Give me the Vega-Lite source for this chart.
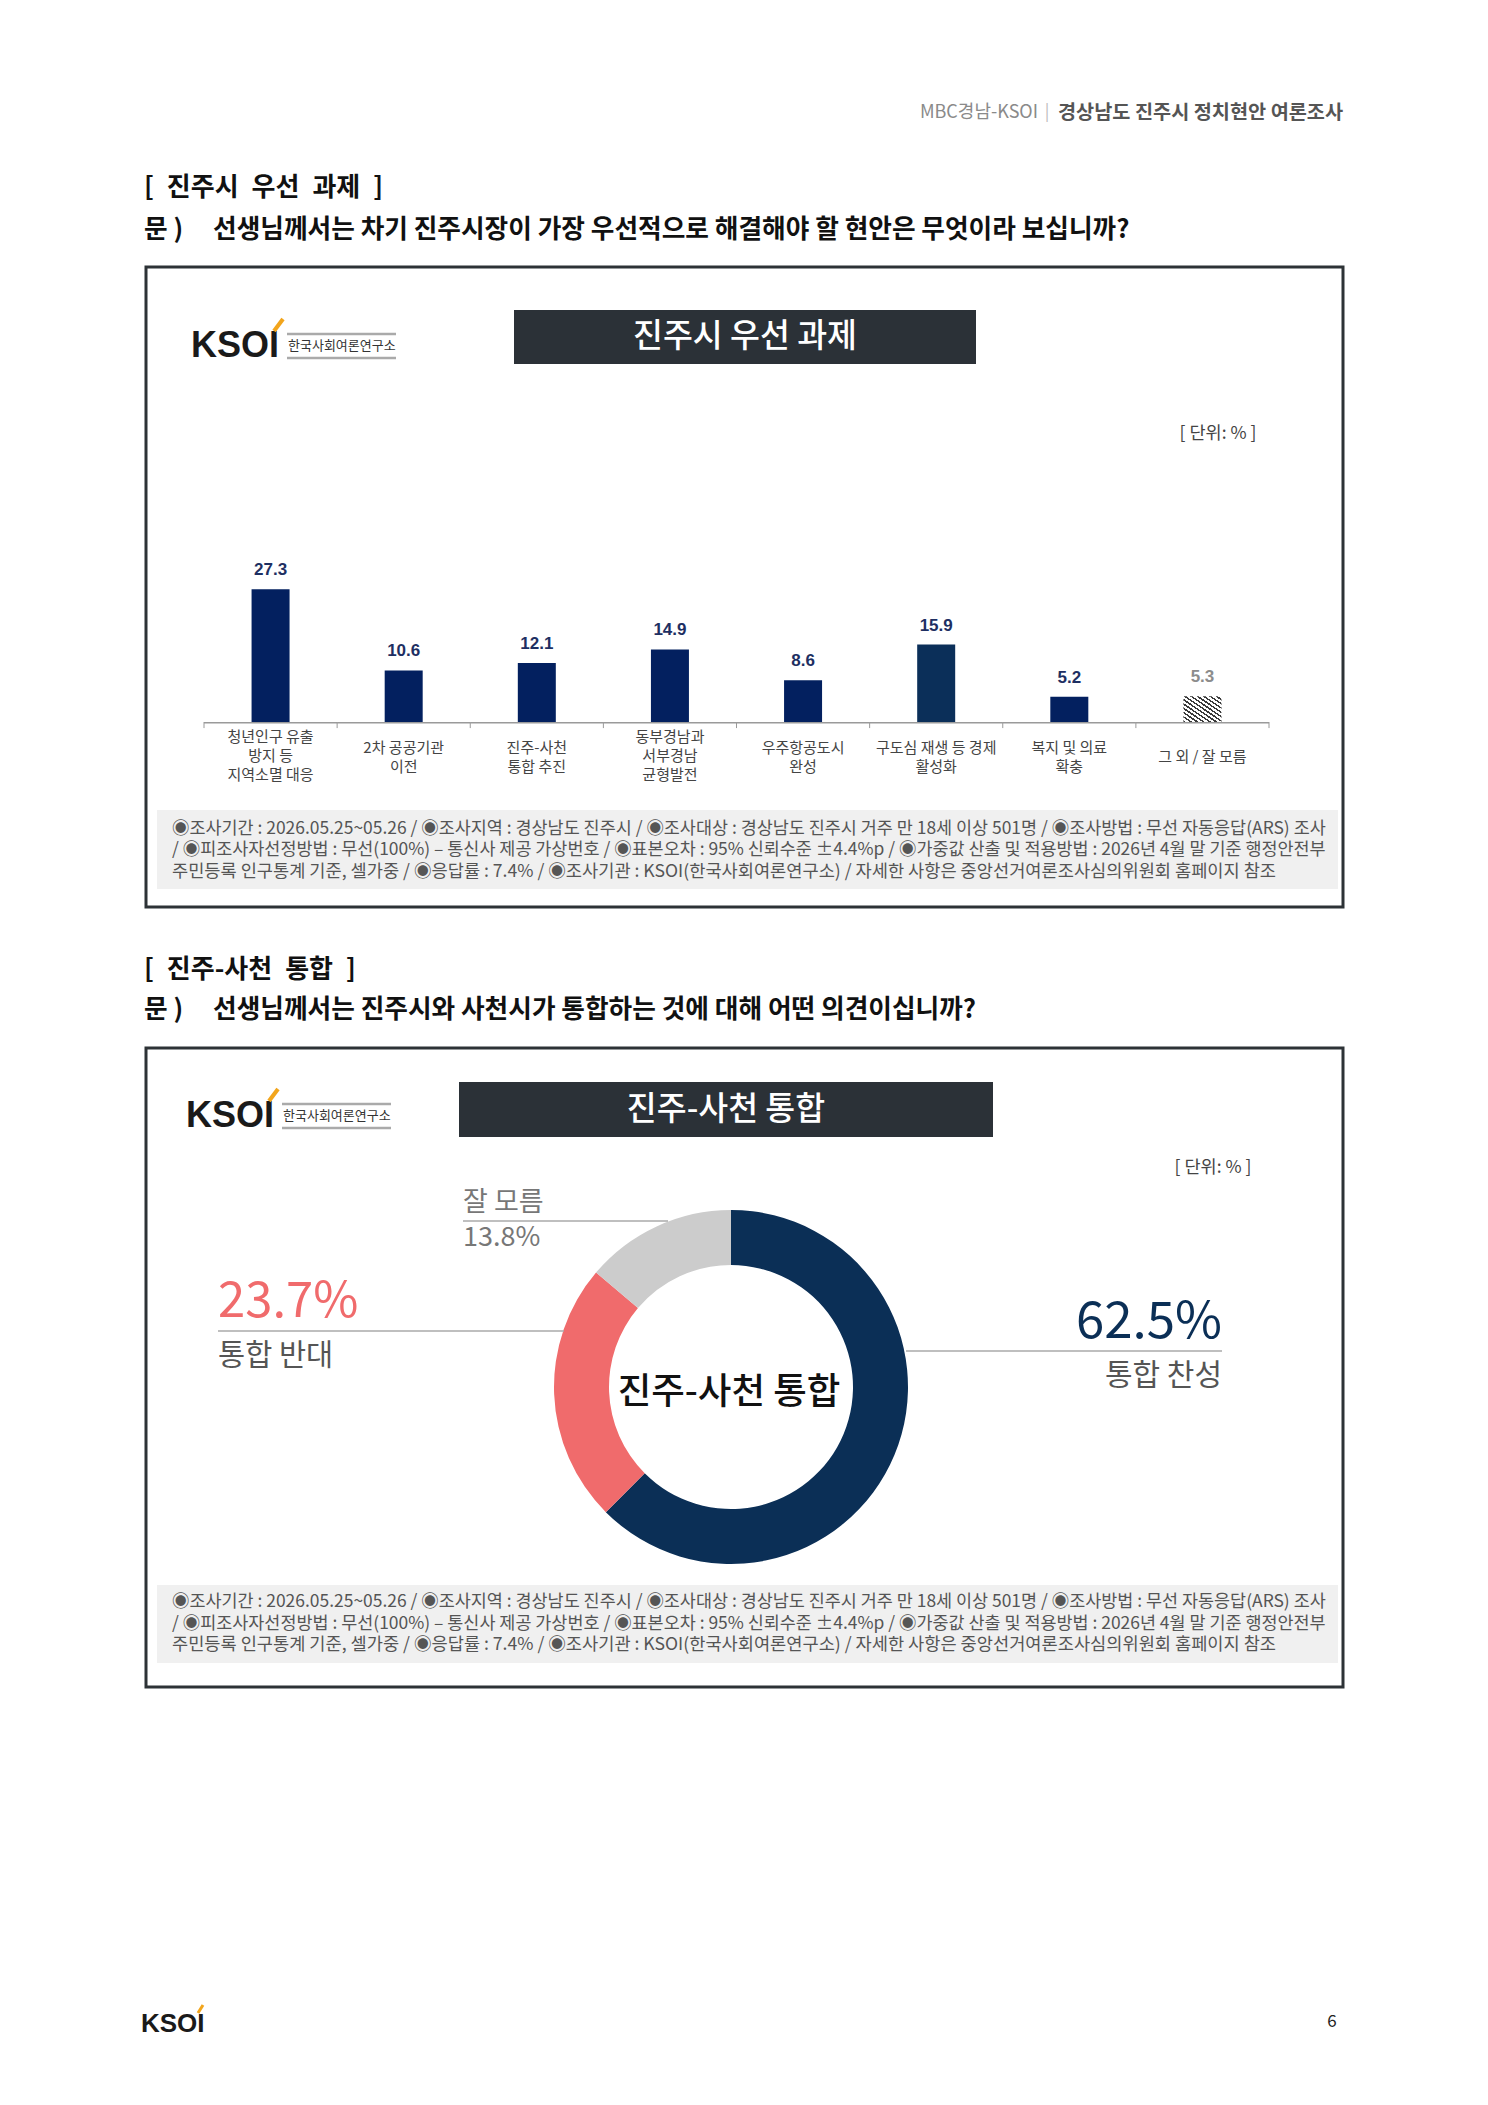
{
  "$schema": "https://vega.github.io/schema/vega-lite/v6.json",
  "width": 1488,
  "height": 2105,
  "autosize": {"type": "none"},
  "padding": 0,
  "background": "#ffffff",
  "config": {"view": {"stroke": null}, "font": "Noto Sans CJK KR"},
  "datasets": {
    "bars": [
      {"category": "청년인구 유출\n방지 등\n지역소멸 대응", "value": 27.3},
      {"category": "2차 공공기관\n이전", "value": 10.6},
      {"category": "진주-사천\n통합 추진", "value": 12.1},
      {"category": "동부경남과\n서부경남\n균형발전", "value": 14.9},
      {"category": "우주항공도시\n완성", "value": 8.6},
      {"category": "구도심 재생 등 경제\n활성화", "value": 15.9},
      {"category": "복지 및 의료\n확충", "value": 5.2},
      {"category": "그 외 / 잘 모름", "value": 5.3}
    ],
    "donut": [
      {"opinion": "통합 찬성", "share": 0.625},
      {"opinion": "통합 반대", "share": 0.237},
      {"opinion": "잘 모름", "share": 0.138}
    ]
  },
  "data": {"values": [{}]},
  "layer": [
    {"mark": {"type": "text", "text": "MBC경남-KSOI", "align": "right", "baseline": "middle", "fontSize": 18, "color": "#8a8a8a"}, "encoding": {"x": {"value": 1038}, "y": {"value": 113}}},
    {"mark": {"type": "text", "text": "|", "align": "center", "baseline": "middle", "fontSize": 17, "color": "#bbbbbb"}, "encoding": {"x": {"value": 1047}, "y": {"value": 112}}},
    {"mark": {"type": "text", "text": "경상남도 진주시 정치현안 여론조사", "align": "left", "baseline": "middle", "fontSize": 19.7, "fontWeight": "bold", "color": "#555555"}, "encoding": {"x": {"value": 1058}, "y": {"value": 113}}},

    {"mark": {"type": "text", "text": "[\u2002진주시\u2002우선\u2002과제\u2002]", "align": "left", "baseline": "middle", "fontSize": 26, "fontWeight": "bold", "color": "#111111"}, "encoding": {"x": {"value": 144}, "y": {"value": 188}}},
    {"mark": {"type": "text", "text": "문 )", "align": "left", "baseline": "middle", "fontSize": 25.7, "fontWeight": "bold", "color": "#111111"}, "encoding": {"x": {"value": 144}, "y": {"value": 230}}},
    {"mark": {"type": "text", "text": "선생님께서는 차기 진주시장이 가장 우선적으로 해결해야 할 현안은 무엇이라 보십니까?", "align": "left", "baseline": "middle", "fontSize": 25.7, "fontWeight": "bold", "color": "#111111"}, "encoding": {"x": {"value": 213}, "y": {"value": 230}}},

    {"mark": {"type": "rect", "filled": false, "color": "#2d3236", "strokeWidth": 3}, "encoding": {"x": {"value": 146}, "x2": {"value": 1343}, "y": {"value": 267}, "y2": {"value": 907}}},

    {"mark": {"type": "text", "text": "KSOI", "align": "left", "baseline": "alphabetic", "fontSize": 36, "fontWeight": "bold", "font": "Liberation Sans", "color": "#1a1a1a"}, "encoding": {"x": {"value": 191}, "y": {"value": 357}}},
    {"mark": {"type": "rule", "color": "#f2a51c", "strokeWidth": 4}, "encoding": {"x": {"value": 274}, "y": {"value": 331}, "x2": {"value": 283}, "y2": {"value": 319}}},
    {"mark": {"type": "rule", "color": "#aaaaaa", "strokeWidth": 2.5}, "encoding": {"x": {"value": 287}, "x2": {"value": 396}, "y": {"value": 334}}},
    {"mark": {"type": "rule", "color": "#aaaaaa", "strokeWidth": 2.5}, "encoding": {"x": {"value": 287}, "x2": {"value": 396}, "y": {"value": 358}}},
    {"mark": {"type": "text", "text": "한국사회여론연구소", "align": "left", "baseline": "middle", "fontSize": 13, "color": "#333333"}, "encoding": {"x": {"value": 288}, "y": {"value": 346}}},

    {"mark": {"type": "rect", "color": "#2b3137"}, "encoding": {"x": {"value": 514}, "x2": {"value": 976}, "y": {"value": 310}, "y2": {"value": 364}}},
    {"mark": {"type": "text", "text": "진주시 우선 과제", "align": "center", "baseline": "middle", "fontSize": 32.5, "fontWeight": 500, "color": "#ffffff"}, "encoding": {"x": {"value": 745}, "y": {"value": 337}}},
    {"mark": {"type": "text", "text": "[ 단위: % ]", "align": "center", "baseline": "middle", "fontSize": 17.5, "color": "#444444"}, "encoding": {"x": {"value": 1218}, "y": {"value": 434}}},

    {
      "data": {"name": "bars"},
      "mark": {"type": "rect", "color": "#9a9a9a"},
      "encoding": {
        "x": {
          "field": "category", "type": "nominal", "sort": null,
          "scale": {"type": "band", "domain": ["청년인구 유출\n방지 등\n지역소멸 대응", "2차 공공기관\n이전", "진주-사천\n통합 추진", "동부경남과\n서부경남\n균형발전", "우주항공도시\n완성", "구도심 재생 등 경제\n활성화", "복지 및 의료\n확충", "그 외 / 잘 모름"], "range": [204, 1269], "paddingInner": 0, "paddingOuter": 0},
          "axis": null
        },
        "y": {"datum": 0, "type": "quantitative", "scale": {"domain": [0, 30], "range": [722, 576], "nice": false}, "axis": null},
        "y2": {"datum": -0.32}
      }
    },
    {
      "data": {"name": "bars"},
      "mark": {"type": "rule", "color": "#9a9a9a", "strokeWidth": 1},
      "encoding": {
        "x": {"field": "category", "type": "nominal", "bandPosition": 0, "axis": null},
        "y": {"datum": 0, "type": "quantitative", "axis": null},
        "y2": {"datum": -1.25}
      }
    },
    {
      "data": {"name": "bars"},
      "transform": [{"filter": "datum.category == '그 외 / 잘 모름'"}],
      "mark": {"type": "rule", "color": "#9a9a9a", "strokeWidth": 1},
      "encoding": {
        "x": {"field": "category", "type": "nominal", "bandPosition": 1, "axis": null},
        "y": {"datum": 0, "type": "quantitative", "axis": null},
        "y2": {"datum": -1.25}
      }
    },
    {
      "data": {"name": "bars"},
      "transform": [{"filter": "datum.category != '그 외 / 잘 모름'"}],
      "mark": {"type": "bar", "width": 38},
      "encoding": {
        "x": {"field": "category", "type": "nominal", "axis": null},
        "y": {"field": "value", "type": "quantitative", "axis": null},
        "color": {"condition": {"test": "indexof(datum.category, '구도심') >= 0", "value": "#0b2f59"}, "value": "#03205f"}
      }
    },
    {
      "data": {"name": "bars"},
      "transform": [{"filter": "datum.category == '그 외 / 잘 모름'"}],
      "mark": {"type": "bar", "width": 38, "color": {"gradient": "linear", "x1": 0, "y1": 1, "x2": 1, "y2": 0, "stops": [
        {"offset": 0, "color": "#3a3a3a"}, {"offset": 0.035, "color": "#3a3a3a"}, {"offset": 0.035, "color": "#ffffff"}, {"offset": 0.0833, "color": "#ffffff"},
        {"offset": 0.0833, "color": "#3a3a3a"}, {"offset": 0.1183, "color": "#3a3a3a"}, {"offset": 0.1183, "color": "#ffffff"}, {"offset": 0.1667, "color": "#ffffff"},
        {"offset": 0.1667, "color": "#3a3a3a"}, {"offset": 0.2017, "color": "#3a3a3a"}, {"offset": 0.2017, "color": "#ffffff"}, {"offset": 0.25, "color": "#ffffff"},
        {"offset": 0.25, "color": "#3a3a3a"}, {"offset": 0.285, "color": "#3a3a3a"}, {"offset": 0.285, "color": "#ffffff"}, {"offset": 0.3333, "color": "#ffffff"},
        {"offset": 0.3333, "color": "#3a3a3a"}, {"offset": 0.3683, "color": "#3a3a3a"}, {"offset": 0.3683, "color": "#ffffff"}, {"offset": 0.4167, "color": "#ffffff"},
        {"offset": 0.4167, "color": "#3a3a3a"}, {"offset": 0.4517, "color": "#3a3a3a"}, {"offset": 0.4517, "color": "#ffffff"}, {"offset": 0.5, "color": "#ffffff"},
        {"offset": 0.5, "color": "#3a3a3a"}, {"offset": 0.535, "color": "#3a3a3a"}, {"offset": 0.535, "color": "#ffffff"}, {"offset": 0.5833, "color": "#ffffff"},
        {"offset": 0.5833, "color": "#3a3a3a"}, {"offset": 0.6183, "color": "#3a3a3a"}, {"offset": 0.6183, "color": "#ffffff"}, {"offset": 0.6667, "color": "#ffffff"},
        {"offset": 0.6667, "color": "#3a3a3a"}, {"offset": 0.7017, "color": "#3a3a3a"}, {"offset": 0.7017, "color": "#ffffff"}, {"offset": 0.75, "color": "#ffffff"},
        {"offset": 0.75, "color": "#3a3a3a"}, {"offset": 0.785, "color": "#3a3a3a"}, {"offset": 0.785, "color": "#ffffff"}, {"offset": 0.8333, "color": "#ffffff"},
        {"offset": 0.8333, "color": "#3a3a3a"}, {"offset": 0.8683, "color": "#3a3a3a"}, {"offset": 0.8683, "color": "#ffffff"}, {"offset": 0.9167, "color": "#ffffff"},
        {"offset": 0.9167, "color": "#3a3a3a"}, {"offset": 0.9517, "color": "#3a3a3a"}, {"offset": 0.9517, "color": "#ffffff"}, {"offset": 1, "color": "#ffffff"}
      ]}},
      "encoding": {
        "x": {"field": "category", "type": "nominal", "axis": null},
        "y": {"field": "value", "type": "quantitative", "axis": null}
      }
    },
    {
      "data": {"name": "bars"},
      "mark": {"type": "text", "baseline": "bottom", "dy": -10, "fontSize": 17, "fontWeight": "bold", "font": "Liberation Sans"},
      "encoding": {
        "x": {"field": "category", "type": "nominal", "axis": null},
        "y": {"field": "value", "type": "quantitative", "axis": null},
        "text": {"field": "value", "type": "quantitative", "format": ".1f"},
        "color": {"condition": {"test": "datum.category == '그 외 / 잘 모름'", "value": "#8c8c8c"}, "value": "#1e2f62"}
      }
    },
    {
      "data": {"name": "bars"},
      "transform": [{"filter": "length(split(datum.category, '\\n')) == 3"}],
      "mark": {"type": "text", "align": "center", "baseline": "middle", "lineBreak": "\n", "lineHeight": 19, "fontSize": 15, "color": "#444444"},
      "encoding": {
        "x": {"field": "category", "type": "nominal", "axis": null},
        "y": {"datum": -3.1, "type": "quantitative", "axis": null},
        "text": {"field": "category", "type": "nominal"}
      }
    },
    {
      "data": {"name": "bars"},
      "transform": [{"filter": "length(split(datum.category, '\\n')) == 2"}],
      "mark": {"type": "text", "align": "center", "baseline": "middle", "lineBreak": "\n", "lineHeight": 19, "fontSize": 15, "color": "#444444"},
      "encoding": {
        "x": {"field": "category", "type": "nominal", "axis": null},
        "y": {"datum": -5.25, "type": "quantitative", "axis": null},
        "text": {"field": "category", "type": "nominal"}
      }
    },
    {
      "data": {"name": "bars"},
      "transform": [{"filter": "length(split(datum.category, '\\n')) == 1"}],
      "mark": {"type": "text", "align": "center", "baseline": "middle", "lineBreak": "\n", "lineHeight": 19, "fontSize": 15, "color": "#444444"},
      "encoding": {
        "x": {"field": "category", "type": "nominal", "axis": null},
        "y": {"datum": -7.2, "type": "quantitative", "axis": null},
        "text": {"field": "category", "type": "nominal"}
      }
    },

    {"mark": {"type": "rect", "color": "#f0f0f0"}, "encoding": {"x": {"value": 157}, "x2": {"value": 1338}, "y": {"value": 810}, "y2": {"value": 889}}},
    {"mark": {"type": "text", "text": "◉조사기간 : 2026.05.25~05.26 / ◉조사지역 : 경상남도 진주시 / ◉조사대상 : 경상남도 진주시 거주 만 18세 이상 501명 / ◉조사방법 : 무선 자동응답(ARS) 조사", "align": "left", "baseline": "middle", "fontSize": 17.45, "color": "#555555"}, "encoding": {"x": {"value": 172}, "y": {"value": 829}}},
    {"mark": {"type": "text", "text": "/ ◉피조사자선정방법 : 무선(100%) – 통신사 제공 가상번호 / ◉표본오차 : 95% 신뢰수준 ±4.4%p / ◉가중값 산출 및 적용방법 : 2026년 4월 말 기준 행정안전부", "align": "left", "baseline": "middle", "fontSize": 17.45, "color": "#555555"}, "encoding": {"x": {"value": 172}, "y": {"value": 850}}},
    {"mark": {"type": "text", "text": "주민등록 인구통계 기준, 셀가중 / ◉응답률 : 7.4% / ◉조사기관 : KSOI(한국사회여론연구소) / 자세한 사항은 중앙선거여론조사심의위원회 홈페이지 참조", "align": "left", "baseline": "middle", "fontSize": 17.6, "color": "#555555"}, "encoding": {"x": {"value": 172}, "y": {"value": 872}}},

    {"mark": {"type": "text", "text": "[\u2002진주-사천\u2002통합\u2002]", "align": "left", "baseline": "middle", "fontSize": 26, "fontWeight": "bold", "color": "#111111"}, "encoding": {"x": {"value": 144}, "y": {"value": 970}}},
    {"mark": {"type": "text", "text": "문 )", "align": "left", "baseline": "middle", "fontSize": 25.7, "fontWeight": "bold", "color": "#111111"}, "encoding": {"x": {"value": 144}, "y": {"value": 1010}}},
    {"mark": {"type": "text", "text": "선생님께서는 진주시와 사천시가 통합하는 것에 대해 어떤 의견이십니까?", "align": "left", "baseline": "middle", "fontSize": 25.7, "fontWeight": "bold", "color": "#111111"}, "encoding": {"x": {"value": 213}, "y": {"value": 1010}}},

    {"mark": {"type": "rect", "filled": false, "color": "#2d3236", "strokeWidth": 3}, "encoding": {"x": {"value": 146}, "x2": {"value": 1343}, "y": {"value": 1048}, "y2": {"value": 1687}}},

    {"mark": {"type": "text", "text": "KSOI", "align": "left", "baseline": "alphabetic", "fontSize": 36, "fontWeight": "bold", "font": "Liberation Sans", "color": "#1a1a1a"}, "encoding": {"x": {"value": 186}, "y": {"value": 1127}}},
    {"mark": {"type": "rule", "color": "#f2a51c", "strokeWidth": 4}, "encoding": {"x": {"value": 269}, "y": {"value": 1101}, "x2": {"value": 278}, "y2": {"value": 1089}}},
    {"mark": {"type": "rule", "color": "#aaaaaa", "strokeWidth": 2.5}, "encoding": {"x": {"value": 282}, "x2": {"value": 391}, "y": {"value": 1104}}},
    {"mark": {"type": "rule", "color": "#aaaaaa", "strokeWidth": 2.5}, "encoding": {"x": {"value": 282}, "x2": {"value": 391}, "y": {"value": 1128}}},
    {"mark": {"type": "text", "text": "한국사회여론연구소", "align": "left", "baseline": "middle", "fontSize": 13, "color": "#333333"}, "encoding": {"x": {"value": 283}, "y": {"value": 1116}}},

    {"mark": {"type": "rect", "color": "#2b3137"}, "encoding": {"x": {"value": 459}, "x2": {"value": 993}, "y": {"value": 1082}, "y2": {"value": 1137}}},
    {"mark": {"type": "text", "text": "진주-사천 통합", "align": "center", "baseline": "middle", "fontSize": 32.5, "fontWeight": 500, "color": "#ffffff"}, "encoding": {"x": {"value": 726}, "y": {"value": 1110}}},
    {"mark": {"type": "text", "text": "[ 단위: % ]", "align": "center", "baseline": "middle", "fontSize": 17.5, "color": "#444444"}, "encoding": {"x": {"value": 1213}, "y": {"value": 1168}}},

    {
      "data": {"name": "donut"},
      "mark": {"type": "arc", "outerRadius": 177, "innerRadius": 122},
      "encoding": {
        "theta": {"field": "share", "type": "quantitative", "stack": true},
        "order": {"field": "share", "type": "quantitative", "sort": "descending"},
        "color": {"field": "opinion", "type": "nominal", "scale": {"domain": ["통합 찬성", "통합 반대", "잘 모름"], "range": ["#0b2f56", "#f06b6c", "#cccccc"]}, "legend": null},
        "x": {"value": 731},
        "y": {"value": 1387}
      }
    },
    {"mark": {"type": "text", "text": "진주-사천 통합", "align": "center", "baseline": "middle", "fontSize": 36.5, "fontWeight": 500, "color": "#111111"}, "encoding": {"x": {"value": 729}, "y": {"value": 1393}}},

    {"mark": {"type": "rule", "color": "#aaaaaa", "strokeWidth": 1.5}, "encoding": {"x": {"value": 906}, "x2": {"value": 1222}, "y": {"value": 1351}}},
    {"mark": {"type": "rule", "color": "#aaaaaa", "strokeWidth": 1.5}, "encoding": {"x": {"value": 218}, "x2": {"value": 564}, "y": {"value": 1331}}},
    {"mark": {"type": "rule", "color": "#aaaaaa", "strokeWidth": 1.5}, "encoding": {"x": {"value": 463}, "x2": {"value": 668}, "y": {"value": 1221}}},

    {"data": {"name": "donut"}, "transform": [{"filter": "datum.opinion == '통합 찬성'"}], "mark": {"type": "text", "align": "right", "baseline": "middle", "fontSize": 51, "color": "#0b2f56"}, "encoding": {"text": {"field": "share", "type": "quantitative", "format": ".1%"}, "x": {"value": 1222}, "y": {"value": 1323}}},
    {"data": {"name": "donut"}, "transform": [{"filter": "datum.opinion == '통합 찬성'"}], "mark": {"type": "text", "align": "right", "baseline": "middle", "fontSize": 30, "color": "#555555"}, "encoding": {"text": {"field": "opinion", "type": "nominal"}, "x": {"value": 1222}, "y": {"value": 1376}}},
    {"data": {"name": "donut"}, "transform": [{"filter": "datum.opinion == '통합 반대'"}], "mark": {"type": "text", "align": "left", "baseline": "middle", "fontSize": 49, "color": "#f06b6c"}, "encoding": {"text": {"field": "share", "type": "quantitative", "format": ".1%"}, "x": {"value": 218}, "y": {"value": 1302}}},
    {"data": {"name": "donut"}, "transform": [{"filter": "datum.opinion == '통합 반대'"}], "mark": {"type": "text", "align": "left", "baseline": "middle", "fontSize": 29.5, "color": "#555555"}, "encoding": {"text": {"field": "opinion", "type": "nominal"}, "x": {"value": 218}, "y": {"value": 1356}}},
    {"data": {"name": "donut"}, "transform": [{"filter": "datum.opinion == '잘 모름'"}], "mark": {"type": "text", "align": "left", "baseline": "middle", "fontSize": 27, "color": "#777777"}, "encoding": {"text": {"field": "opinion", "type": "nominal"}, "x": {"value": 463}, "y": {"value": 1203}}},
    {"data": {"name": "donut"}, "transform": [{"filter": "datum.opinion == '잘 모름'"}], "mark": {"type": "text", "align": "left", "baseline": "middle", "fontSize": 27, "color": "#777777"}, "encoding": {"text": {"field": "share", "type": "quantitative", "format": ".1%"}, "x": {"value": 463}, "y": {"value": 1238}}},

    {"mark": {"type": "rect", "color": "#f0f0f0"}, "encoding": {"x": {"value": 157}, "x2": {"value": 1338}, "y": {"value": 1585}, "y2": {"value": 1663}}},
    {"mark": {"type": "text", "text": "◉조사기간 : 2026.05.25~05.26 / ◉조사지역 : 경상남도 진주시 / ◉조사대상 : 경상남도 진주시 거주 만 18세 이상 501명 / ◉조사방법 : 무선 자동응답(ARS) 조사", "align": "left", "baseline": "middle", "fontSize": 17.45, "color": "#555555"}, "encoding": {"x": {"value": 172}, "y": {"value": 1602}}},
    {"mark": {"type": "text", "text": "/ ◉피조사자선정방법 : 무선(100%) – 통신사 제공 가상번호 / ◉표본오차 : 95% 신뢰수준 ±4.4%p / ◉가중값 산출 및 적용방법 : 2026년 4월 말 기준 행정안전부", "align": "left", "baseline": "middle", "fontSize": 17.45, "color": "#555555"}, "encoding": {"x": {"value": 172}, "y": {"value": 1624}}},
    {"mark": {"type": "text", "text": "주민등록 인구통계 기준, 셀가중 / ◉응답률 : 7.4% / ◉조사기관 : KSOI(한국사회여론연구소) / 자세한 사항은 중앙선거여론조사심의위원회 홈페이지 참조", "align": "left", "baseline": "middle", "fontSize": 17.6, "color": "#555555"}, "encoding": {"x": {"value": 172}, "y": {"value": 1645}}},

    {"mark": {"type": "text", "text": "KSOI", "align": "left", "baseline": "alphabetic", "fontSize": 26, "fontWeight": "bold", "font": "Liberation Sans", "color": "#1a1a1a"}, "encoding": {"x": {"value": 141}, "y": {"value": 2032}}},
    {"mark": {"type": "rule", "color": "#f2a51c", "strokeWidth": 3}, "encoding": {"x": {"value": 198}, "y": {"value": 2013}, "x2": {"value": 203}, "y2": {"value": 2005}}},
    {"mark": {"type": "text", "text": "6", "align": "center", "baseline": "middle", "fontSize": 17, "color": "#222222"}, "encoding": {"x": {"value": 1332}, "y": {"value": 2022}}}
  ]
}
